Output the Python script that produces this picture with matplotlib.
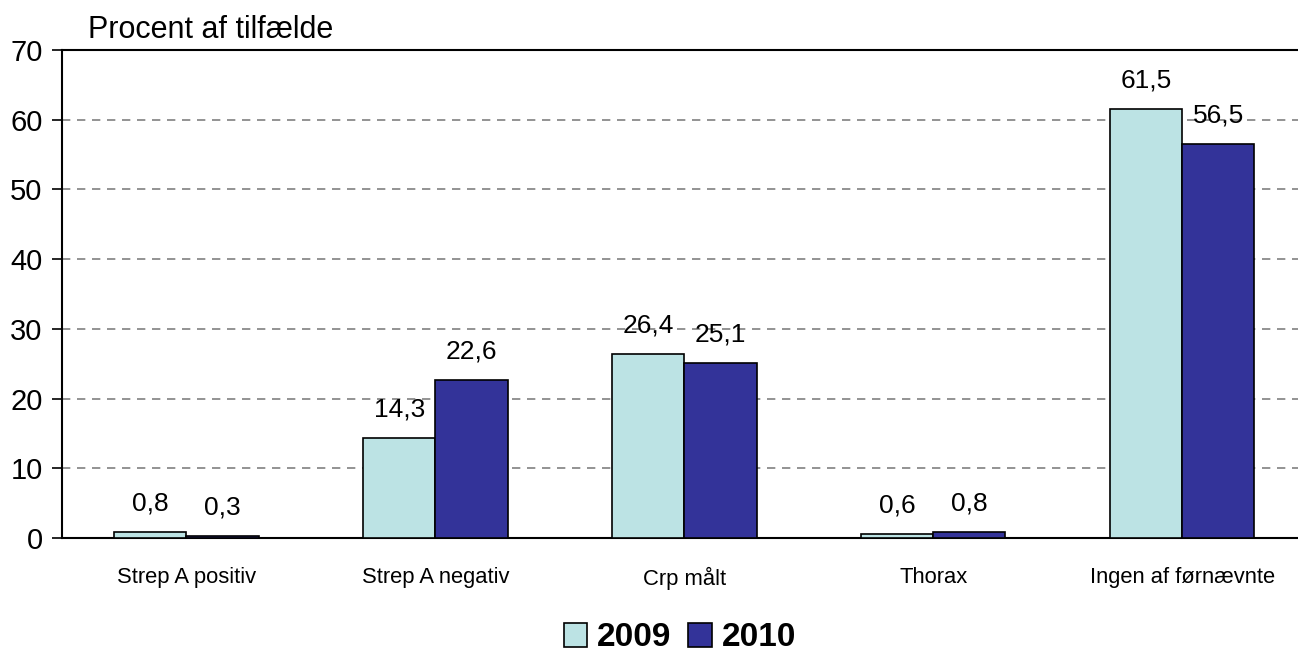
import numpy as np
import matplotlib.pyplot as plt

plt.rcParams['font.family'] = ['Liberation Sans', 'DejaVu Sans']

kategorier = ['Strep A positiv', 'Strep A negativ', 'Crp målt', 'Thorax', 'Ingen af førnævnte']
aar = ['2009', '2010']
vaerdier_2009 = [0.8, 14.3, 26.4, 0.6, 61.5]
vaerdier_2010 = [0.3, 22.6, 25.1, 0.8, 56.5]
y_ticks = [0, 10, 20, 30, 40, 50, 60, 70]

farve_2009 = '#BCE3E4'
farve_2010 = '#333399'

fig = plt.figure(figsize=(12.98, 6.58), dpi=100)
ax = fig.add_axes([62 / 1298, 1 - 538 / 658, 1236 / 1298, 488 / 658])

x = np.arange(len(kategorier))
b = 0.29
bars1 = ax.bar(x - b / 2, vaerdier_2009, b, color=farve_2009, edgecolor='black', linewidth=1.2, label=aar[0], zorder=3)
bars2 = ax.bar(x + b / 2, vaerdier_2010, b, color=farve_2010, edgecolor='black', linewidth=1.2, label=aar[1], zorder=3)

for bars in (bars1, bars2):
    for r in bars:
        v = r.get_height()
        ax.annotate(f'{v:.1f}'.replace('.', ','), (r.get_x() + r.get_width() / 2, v),
                    xytext=(0, 12), textcoords='offset points', ha='center', va='bottom',
                    fontsize=19, zorder=4)

ax.set_xlim(-0.5, 4.465)
ax.set_ylim(0, 70)
ax.set_yticks(y_ticks)
ax.set_yticklabels([str(t) for t in y_ticks], fontsize=21)
ax.set_xticks(x)
ax.set_xticklabels(kategorier, fontsize=15.8)
ax.tick_params(axis='x', length=0, pad=21)
ax.tick_params(axis='y', length=7, width=1.2, direction='out', pad=7)

ax.yaxis.grid(True, color='#808080', linestyle=(0, (5, 4)), linewidth=1.2, zorder=0)
ax.spines['right'].set_visible(False)
for s in ['left', 'top', 'bottom']:
    ax.spines[s].set_linewidth(1.5)

fig.text(88 / 1298, 1 - 30 / 658, 'Procent af tilfælde', fontsize=22, va='center', ha='left')

fig.legend(handles=[bars1, bars2], labels=aar, loc='center', bbox_to_anchor=(680 / 1298, 1 - 638 / 658),
           ncol=2, frameon=False, prop={'weight': 'bold', 'size': 24},
           handlelength=0.7, handleheight=0.7, handletextpad=0.3, columnspacing=0.5)

fig.savefig('out.png', dpi=100)
